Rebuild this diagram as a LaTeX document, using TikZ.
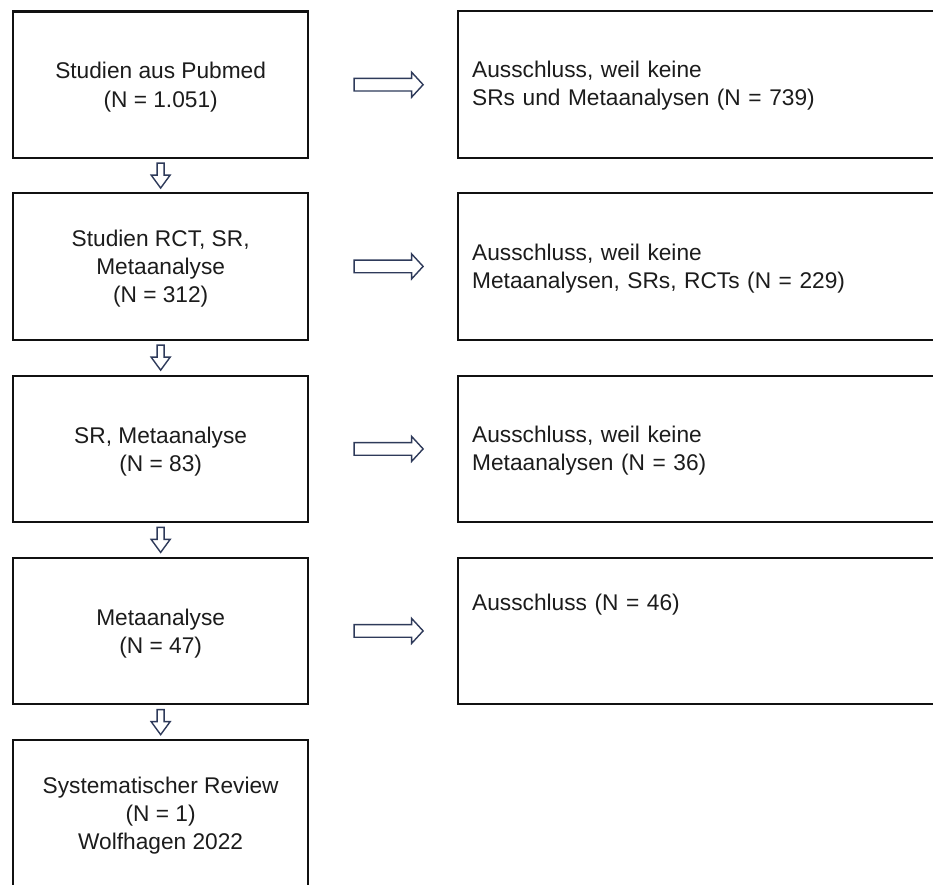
\documentclass[tikz,border=0pt]{standalone}
\usepackage{fontspec}
\setmainfont{Liberation Sans}
\usetikzlibrary{calc}
\definecolor{framecol}{HTML}{111111}
\definecolor{arrowcol}{HTML}{2E3A5A}
\definecolor{textcol}{HTML}{1C1C1C}
\tikzset{
  flowbox/.style={draw=framecol, line width=2.3pt, fill=white, inner sep=0pt,
    minimum width=295pt, minimum height=146.5pt, anchor=north west},
  flowtext/.style={anchor=center, inner sep=0pt, align=center, text=textcol,
    font=\fontsize{22.7}{28.2}\selectfont},
  exclbox/.style={draw=framecol, line width=2.3pt, fill=white, inner sep=0pt,
    minimum width=600pt, minimum height=146.5pt, anchor=north west},
  excltext/.style={anchor=base west, inner sep=0pt, text width=440pt,
    align=left, text=textcol, font=\fontsize{22.7}{28.2}\selectfont},
  downblock/.pic={
    \draw[arrowcol, line width=1.4pt, fill=white, line join=miter]
      (-3.5,-12.5) -- (3.5,-12.5) -- (3.5,-0.5) -- (9.5,-0.5) -- (0,12.5)
      -- (-9.5,-0.5) -- (-3.5,-0.5) -- cycle;
  },
  rightblock/.pic={
    \draw[arrowcol, line width=1.4pt, fill=white, line join=miter]
      (-34.5,-6.3) -- (23,-6.3) -- (23,-12.5) -- (34.5,0) -- (23,12.5)
      -- (23,6.3) -- (-34.5,6.3) -- cycle;
  }
}
\begin{document}
\begin{tikzpicture}[x=1pt, y=-1pt]
\useasboundingbox (0,0) rectangle (933,884);
\clip (0,0) rectangle (933,884);

% main chain of boxes
\node[flowbox] (s1) at (12,10.3) {};
\node[flowbox] (s2) at (12,192) {};
\node[flowbox] (s3) at (12,374.5) {};
\node[flowbox] (s4) at (12,556.5) {};
\node[flowbox] (s5) at (12,739) {};

\node[flowtext] (l1) at ([yshift=-2.5pt]s1.center) {Studien aus Pubmed\\(N = 1.051)};
\node[flowtext] (l2) at ([yshift=-2.5pt]s2.center) {Studien RCT, SR,\\Metaanalyse\\(N = 312)};
\node[flowtext] (l3) at ([yshift=-2.5pt]s3.center) {SR, Metaanalyse\\(N = 83)};
\node[flowtext] (l4) at ([yshift=-2.5pt]s4.center) {Metaanalyse\\(N = 47)};
\node[flowtext] (l5) at ([yshift=-2.5pt]s5.center) {Systematischer Review\\(N = 1)\\Wolfhagen 2022};

% exclusion boxes
\node[exclbox] (e1) at (457,10) {};
\node[exclbox] (e2) at (457,192) {};
\node[exclbox] (e3) at (457,374.5) {};
\node[exclbox] (e4) at (457,556.5) {};

\node[excltext] (t1) at (472,77) {Ausschluss, weil keine\\SRs und Metaanalysen (N = 739)};
\node[excltext] (t2) at (472,260) {Ausschluss, weil keine\\Metaanalysen, SRs, RCTs (N = 229)};
\node[excltext] (t3) at (472,442) {Ausschluss, weil keine\\Metaanalysen (N = 36)};
\node[excltext] (t4) at (472,610) {Ausschluss (N = 46)};

% block arrows down the chain
\pic at ($(s1.south)!0.5!(s2.north)$) {downblock};
\pic at ($(s2.south)!0.5!(s3.north)$) {downblock};
\pic at ($(s3.south)!0.5!(s4.north)$) {downblock};
\pic at ($(s4.south)!0.5!(s5.north)$) {downblock};

% block arrows to the exclusions
\pic at ($(s1.east)!0.537!(s1.east -| e1.west)$) {rightblock};
\pic at ($(s2.east)!0.537!(s2.east -| e2.west)$) {rightblock};
\pic at ($(s3.east)!0.537!(s3.east -| e3.west)$) {rightblock};
\pic at ($(s4.east)!0.537!(s4.east -| e4.west)$) {rightblock};
\end{tikzpicture}
\end{document}
